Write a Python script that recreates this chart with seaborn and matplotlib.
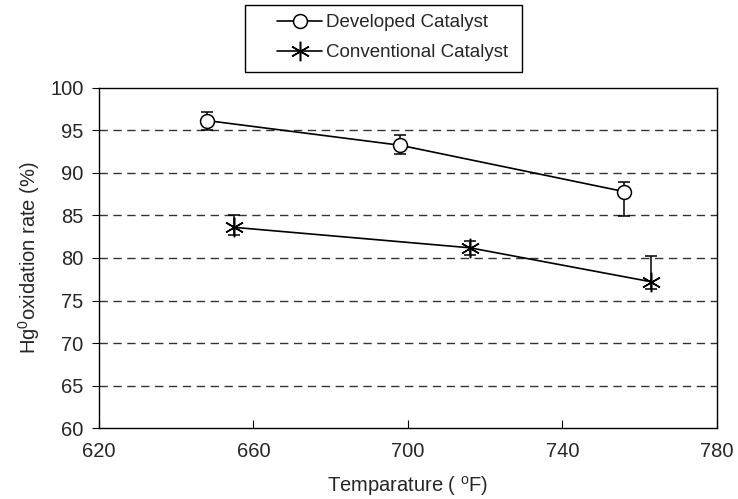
import matplotlib
matplotlib.use("Agg")
import matplotlib.pyplot as plt
import seaborn as sns
import pandas as pd
from matplotlib.lines import Line2D
from matplotlib.patches import Rectangle

# Data
dev_temp = [648, 698, 756]
dev_rate = [96.15, 93.25, 87.8]
dev_err_low = [1.05, 1.05, 2.9]
dev_err_high = [1.05, 1.15, 1.1]

conv_temp = [655, 716, 763]
conv_rate = [83.6, 81.2, 77.2]
conv_err_low = [0.9, 0.8, 0.9]
conv_err_high = [1.4, 0.8, 3.0]

series_names = ["Developed Catalyst", "Conventional Catalyst"]
x_ticks = [620, 660, 700, 740, 780]
y_ticks = [60, 65, 70, 75, 80, 85, 90, 95, 100]

sns.set_theme(style="white")
plt.rcParams['font.family'] = ['Liberation Sans', 'DejaVu Sans']
plt.rcParams['mathtext.fontset'] = 'custom'
plt.rcParams['mathtext.rm'] = 'Liberation Sans'
plt.rcParams['mathtext.it'] = 'Liberation Sans'

FS = 14.5
LFS = 13.5
W, H = 738, 499

df_dev = pd.DataFrame({"temp": dev_temp, "rate": dev_rate})
df_conv = pd.DataFrame({"temp": conv_temp, "rate": conv_rate})

fig = plt.figure(figsize=(7.38, 4.99), dpi=100)
ax = fig.add_axes([0.134, 0.142, 0.8375, 0.682])

sns.lineplot(data=df_dev, x="temp", y="rate", color="black", marker="o",
             markersize=10, markerfacecolor="white", markeredgecolor="black",
             markeredgewidth=1.1, linewidth=1.2, ax=ax, zorder=3)
sns.lineplot(data=df_conv, x="temp", y="rate", color="black", marker=(6, 2, 0),
             markersize=14, markeredgecolor="black", markeredgewidth=1.1,
             linewidth=1.2, ax=ax, zorder=3)

ax.errorbar(dev_temp, dev_rate, yerr=[dev_err_low, dev_err_high], fmt="none",
            ecolor="black", elinewidth=1.1, capsize=4.5, capthick=1.1, zorder=1)
ax.errorbar(conv_temp, conv_rate, yerr=[conv_err_low, conv_err_high], fmt="none",
            ecolor="black", elinewidth=1.1, capsize=4.5, capthick=1.1, zorder=1)

ax.set_xlim(620, 780)
ax.set_ylim(60, 100)
ax.set_xticks(x_ticks)
ax.set_yticks(y_ticks)
ax.tick_params(axis="x", direction="in", length=6, width=0.8, color="black",
               labelsize=FS, pad=10, bottom=True)
ax.tick_params(axis="y", direction="out", length=5, width=0.8, color="black",
               labelsize=FS, left=True, pad=6)
for y in y_ticks[1:-1]:
    ax.axhline(y, color="#333333", linestyle=(0, (6, 4)), linewidth=1.0, zorder=0)
for s in ax.spines.values():
    s.set_color("black")
    s.set_linewidth(1.0)

ax.set_xlabel(r"Temparature ( $^{\mathrm{o}}$F)", fontsize=FS, labelpad=9)
ax.set_ylabel(r"Hg$^{\mathrm{0}}$oxidation rate (%)", fontsize=FS, labelpad=6)

handles = [
    Line2D([], [], color="black", marker="o", markerfacecolor="white", markersize=10,
           markeredgewidth=1.1, linewidth=1.2),
    Line2D([], [], color="black", marker=(6, 2, 0), markersize=14, markeredgewidth=1.1,
           linewidth=1.2),
]
leg = fig.legend(handles, series_names, loc="upper left",
                 bbox_to_anchor=(277 / W, 1 - 14 / H),
                 frameon=False, fontsize=LFS, borderpad=0, borderaxespad=0,
                 handlelength=2.4, handletextpad=0.2, labelspacing=0.7)
fig.patches.append(Rectangle((245 / W, 1 - 72 / H), 277 / W, 67 / H,
                             transform=fig.transFigure, fill=False,
                             edgecolor="black", linewidth=1.0))

fig.savefig("out.png", dpi=100)
